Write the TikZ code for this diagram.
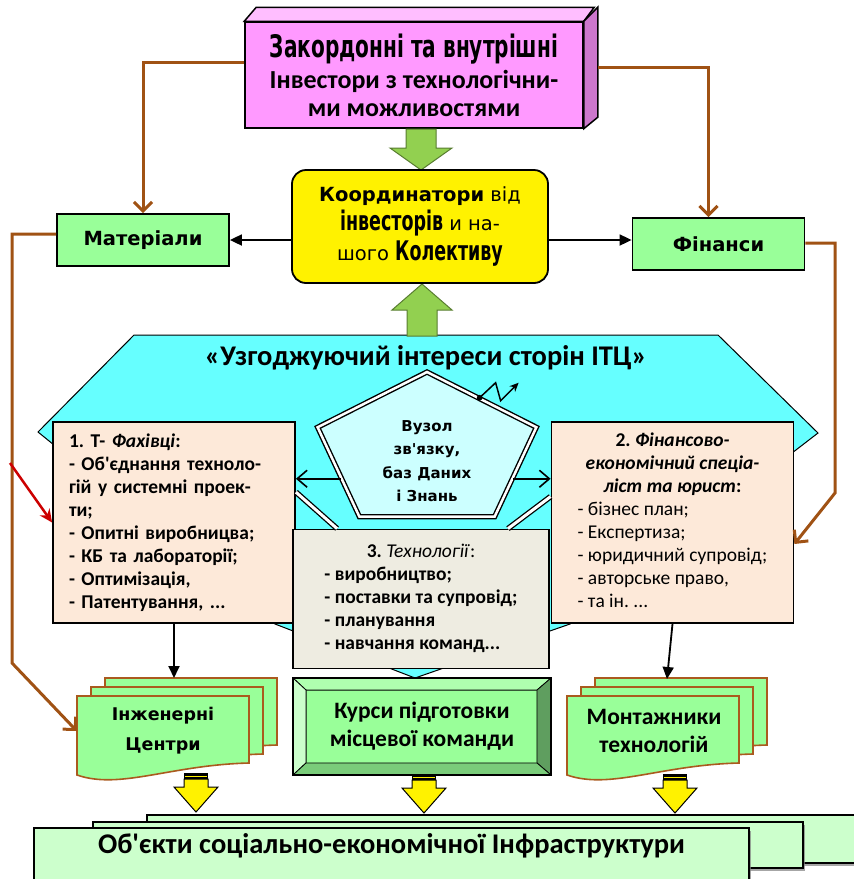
\documentclass[tikz,border=0pt]{standalone}
\usepackage{fontspec}
\setmainfont{Carlito}
\newfontfamily\calib{Carlito}
\newfontfamily\verd{DejaVu Sans}
\newfontfamily\heavy{DejaVu Sans Condensed}[FakeStretch=0.72]
\usetikzlibrary{shapes.geometric,arrows.meta,shadows,calc}

\definecolor{pinkfront}{RGB}{255,153,255}
\definecolor{pinktop}{RGB}{255,190,255}
\definecolor{pinkside}{RGB}{204,119,204}
\definecolor{lgreen}{RGB}{153,255,153}
\definecolor{palegreen}{RGB}{204,255,204}
\definecolor{arrowgreen}{RGB}{146,208,80}
\definecolor{cyanbg}{RGB}{102,255,255}
\definecolor{hubfill}{RGB}{204,255,255}
\definecolor{peach}{RGB}{253,233,217}
\definecolor{beige}{RGB}{238,236,225}
\definecolor{brownline}{RGB}{160,82,20}
\definecolor{docedge}{RGB}{170,90,30}
\definecolor{arrowred}{RGB}{204,0,0}
\definecolor{bevtop}{RGB}{175,255,175}
\definecolor{bevleft}{RGB}{204,255,204}
\definecolor{bevright}{RGB}{95,158,95}
\definecolor{bevbottom}{RGB}{122,204,122}

\newcommand{\docpage}[2]{%
  \draw[docline] (#1,#2) -- (#1+172,#2) -- (#1+172,#2+67)
    .. controls (#1+93,#2+69) and (#1+43,#2+94) .. (#1,#2+79) -- cycle;}
\newcommand{\yarrow}[2]{%
  \fill[black] (#1-12,#2) rectangle (#1+12,#2+6);
  \draw[yellow, line width=1pt] (#1-11,#2+3) -- (#1+11,#2+3);
  \draw[fill=yellow, line width=1pt] (#1-12,#2+6) -- (#1+12,#2+6) -- (#1+12,#2+14)
    -- (#1+22,#2+14) -- (#1,#2+39) -- (#1-22,#2+14) -- (#1-12,#2+14) -- cycle;}
\newcommand{\heavytext}[2]{{\heavy\bfseries\fontsize{#1}{#1}\selectfont #2}}

\begin{document}
\calib\frenchspacing
\begin{tikzpicture}[x=1pt, y=-1pt,
    pinkbox/.style={rectangle, draw, line width=1.5pt, fill=pinkfront,
      minimum width=338pt, minimum height=106pt, align=center},
    yellowbox/.style={rectangle, rounded corners=14pt, draw, line width=1.8pt,
      fill=yellow, minimum width=256pt, minimum height=113pt, align=center},
    greenbox/.style={rectangle, draw, line width=1.8pt, fill=lgreen,
      minimum width=172pt, minimum height=52pt,
      font=\verd\bfseries\fontsize{19.5}{23}\selectfont},
    peachbox/.style={rectangle, draw, line width=1.8pt, fill=peach,
      minimum width=242pt, minimum height=201pt},
    beigebox/.style={rectangle, draw, line width=1.8pt, fill=beige,
      minimum width=256pt, minimum height=139pt},
    hubshape/.style={regular polygon, regular polygon sides=5, draw,
      double, double distance=2.5pt, line width=1.4pt, fill=hubfill,
      minimum size=160pt, inner sep=0pt, xscale=1.4375},
    docline/.style={draw=docedge, line width=1.6pt, fill=lgreen},
    doctext/.style={minimum width=172pt, minimum height=72pt, align=center},
    bevelbox/.style={rectangle, draw, line width=1.8pt, fill=lgreen,
      minimum width=256pt, minimum height=95pt, align=center},
    banner/.style={rectangle, draw, line width=1.2pt, fill=palegreen, minimum width=715pt,
      minimum height=52pt, inner ysep=0pt, text height=20pt, text depth=22pt,
      drop shadow={shadow xshift=2pt, shadow yshift=-3pt, opacity=0.7}},
    brownarr/.style={draw=brownline, line width=3pt,
      -{Straight Barb[length=9pt,width=18pt]}},
    blackarr/.style={line width=1.8pt, -{Triangle[length=12pt,width=11pt]}},
    openarr/.style={line width=1.6pt, -{Straight Barb[length=10pt,width=17pt]}},
    dblline/.style={double, double distance=3pt, line width=1.3pt},
    redarr/.style={draw=arrowred, line width=2.5pt, -{Stealth[length=13pt,width=12pt]}}]

  \useasboundingbox (0,0) rectangle (854,879);
  \clip (0,0) rectangle (854,879);

  \draw[fill=cyanbg, line width=1pt] (38,432) -- (134,335) -- (718,335) -- (818,433)
    -- (570,624) -- (415,678) -- (275,624) -- cycle;
  \node[font=\bfseries\fontsize{28.5}{30}\selectfont] (itc) at (426,358)
    {«Узгоджуючий інтереси сторін ІТЦ»};

  \node[hubshape] (hub) at (427,452) {};
  \node[font=\verd\bfseries\fontsize{15}{23.5}\selectfont, align=center] (hubtxt) at (427,461)
    {Вузол\\зв'язку,\\баз Даних\\і Знань};
  \fill (hub.56) circle (2.8pt);
  \draw[line width=1.5pt, -{Stealth[length=9pt,width=8pt]}] (hub.56) -- ++(16,-15) -- ++(5,18) -- ++(18,-18);

  \node[peachbox, text width=210pt, inner xsep=16pt, align=left,
    font=\bfseries\fontsize{19.5}{23}\selectfont] (t1) at (174,522.5)
    {1. Т- \textit{Фахівці}:\\- Об'єднання техноло-\\гій у системні проек-\\ти;\\
     - Опитні виробницва;\\- КБ та лабораторії;\\- Оптимізація,\\- Патентування, ...};
  \node[peachbox, font=\fontsize{19.5}{23}\selectfont] (t2) at (672.5,522.5)
    {\begin{tabular}{@{}l@{}}
     \multicolumn{1}{@{}c@{}}{\textbf{2. \textit{Фінансово-}}}\\
     \multicolumn{1}{@{}c@{}}{\textbf{\textit{економічний спеціа-}}}\\
     \multicolumn{1}{@{}c@{}}{\textbf{\textit{ліст та юрист}:}}\\
     - бізнес план;\\- Експертиза;\\- юридичний супровід;\\- авторське право,\\- та ін. ...
     \end{tabular}};
  \node[beigebox, font=\fontsize{19.5}{23}\selectfont] (t3) at (421,599)
    {\begin{tabular}{@{}l@{}}
     \multicolumn{1}{@{}c@{}}{\textbf{3.} \textit{Технології}:}\\
     \textbf{- виробництво;}\\\textbf{- поставки та супровід;}\\
     \textbf{- планування}\\\textbf{- навчання команд...}
     \end{tabular}};

  \draw[openarr] (hub.204) -- (hub.204 -| t1.east);
  \draw[openarr] (hub.336) -- (hub.336 -| t2.west);
  \draw[dblline] (t1.14) -- (t3.140);
  \draw[dblline] (t2.168) -- (t3.39);

  \node[pinkbox, font=\bfseries\fontsize{26}{28}\selectfont] (inv) at (414,75)
    {\heavytext{31}{Закордонні та внутрішні}\\[3pt]
     Інвестори з технологічни-\\ми можливостями};
  \draw[fill=pinktop, line width=1.5pt] (inv.north west) -- ++(12,-14) -- ++(338,0)
    -- (inv.north east) -- cycle;
  \draw[fill=pinkside, line width=1.5pt] (inv.north east) -- ++(14,-14) -- ++(0,110)
    -- (inv.south east) -- cycle;

  \draw[fill=arrowgreen, draw=arrowgreen!60!black, line width=1pt] (406,129) -- (436,129)
    -- (436,148) -- (452,148) -- (421,170) -- (390,148) -- (406,148) -- cycle;
  \draw[fill=arrowgreen, draw=arrowgreen!60!black, line width=1pt] (407,336) -- (437,336)
    -- (437,310) -- (452,310) -- (422,284) -- (392,310) -- (407,310) -- cycle;

  \node[yellowbox, font=\verd\fontsize{19.5}{30}\selectfont] (coord) at (420,226.5)
    {\textbf{Координатори} від\\\heavytext{27}{інвесторів} и на-\\
     шого \heavytext{27}{Колективу}};
  \node[greenbox] (mat) at (143,240) {Матеріали};
  \node[greenbox] (fin) at (718.5,244) {Фінанси};

  \draw[blackarr] (coord.west |- mat.east) -- (mat.east);
  \draw[blackarr] (coord.east |- mat.east) -- (fin.west |- mat.east);
  \draw[brownarr] ([yshift=13pt]inv.west) -| (mat.north);
  \draw[brownarr] ([xshift=14pt,yshift=8pt]inv.east) -| ([xshift=-10pt]fin.north);

  \docpage{105}{678}
  \docpage{91}{687}
  \docpage{77}{696}
  \node[doctext, font=\verd\bfseries\fontsize{17.5}{30}\selectfont] (eng) at (163,731)
    {Інженерні\\Центри};
  \docpage{595}{678}
  \docpage{581}{687}
  \docpage{567}{696}
  \node[doctext, font=\bfseries\fontsize{23.5}{28}\selectfont] (mont) at (654,731)
    {Монтажники\\технологій};

  \node[bevelbox, font=\bfseries\fontsize{23.5}{28}\selectfont] (kurs) at (422,726.5)
    {Курси підготовки\\місцевої команди};
  \draw[fill=bevtop, line width=0.8pt] (kurs.north west) -- (kurs.north east)
    -- ($(kurs.north east)+(-14,12)$) -- ($(kurs.north west)+(13,12)$) -- cycle;
  \draw[fill=bevleft, line width=0.8pt] (kurs.north west) -- ($(kurs.north west)+(13,12)$)
    -- ($(kurs.south west)+(13,-12)$) -- (kurs.south west) -- cycle;
  \draw[fill=bevright, line width=0.8pt] (kurs.north east) -- ($(kurs.north east)+(-14,12)$)
    -- ($(kurs.south east)+(-14,-12)$) -- (kurs.south east) -- cycle;
  \draw[fill=bevbottom, line width=0.8pt] (kurs.south west) -- ($(kurs.south west)+(13,-12)$)
    -- ($(kurs.south east)+(-14,-12)$) -- (kurs.south east) -- cycle;
  \draw[line width=1.8pt] (kurs.south west) rectangle (kurs.north east);

  \coordinate (engtop) at (174,678);
  \coordinate (monttop) at (667,679);
  \coordinate (redtail) at (10,463);
  \draw[blackarr] (t1.south) -- (engtop);
  \draw[blackarr] (t2.south) -- (monttop);
  \draw[brownarr] ([yshift=6pt]mat.west) -| (12,663) -- (eng.west);
  \draw[brownarr] ([yshift=1pt]fin.east) -| (835,493) -- (t2.-10);
  \draw[redarr] (redtail) -- (t1.west);

  \yarrow{196}{773}
  \yarrow{424}{774}
  \yarrow{675}{774}

  \draw[fill=palegreen, line width=1.2pt, drop shadow={shadow xshift=2pt, shadow yshift=-3pt, opacity=0.7}]
    (147,815) rectangle (880,863);
  \draw[fill=palegreen, line width=1.2pt, drop shadow={shadow xshift=2pt, shadow yshift=-3pt, opacity=0.7}]
    (93,822) rectangle (803,868);
  \node[banner, font=\bfseries\fontsize{28.5}{30}\selectfont] (infra) at (391.5,854)
    {Об'єкти соціально-економічної Інфраструктури};
\end{tikzpicture}
\end{document}
